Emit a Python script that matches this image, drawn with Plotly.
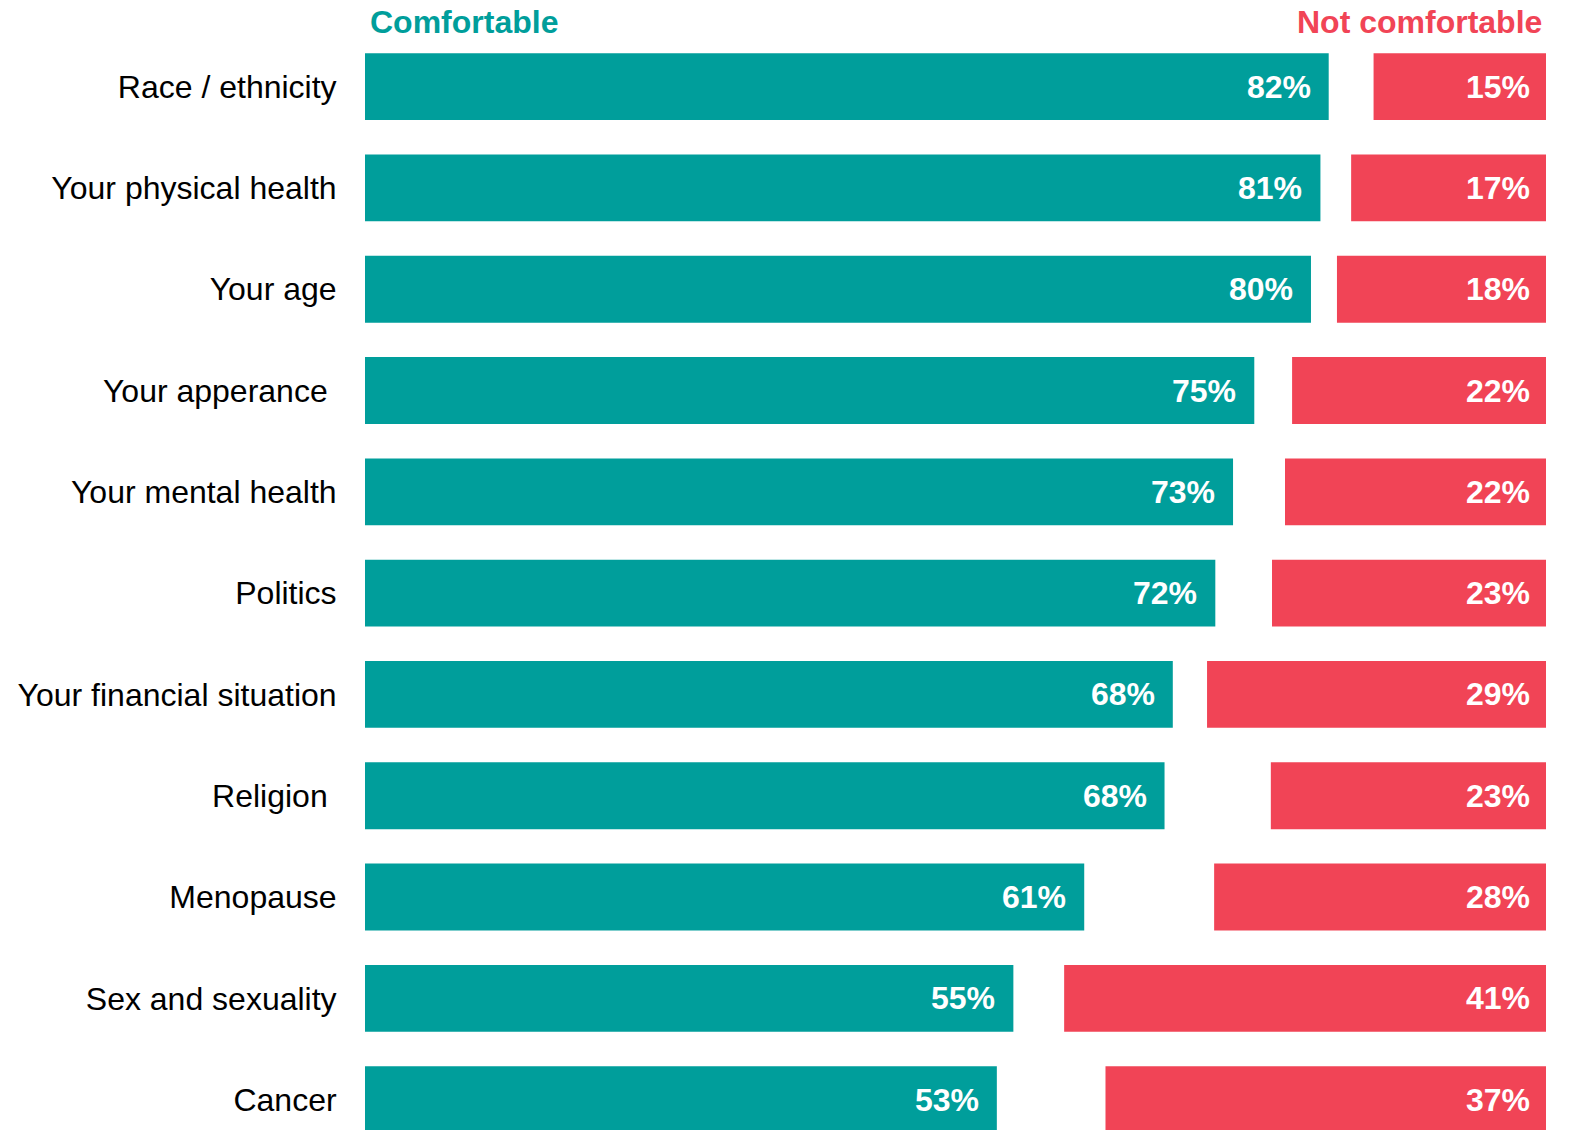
import plotly.graph_objects as go

categories = ["Race / ethnicity", "Your physical health", "Your age", "Your apperance\u00a0",
              "Your mental health", "Politics", "Your financial situation", "Religion\u00a0",
              "Menopause", "Sex and sexuality", "Cancer"]
comfortable = [82, 81, 80, 75, 73, 72, 68, 68, 61, 55, 53]
not_comfortable = [15, 17, 18, 22, 22, 23, 29, 23, 28, 41, 37]
# approximate unrounded bar lengths
comfortable_len = [81.6, 80.9, 80.1, 75.3, 73.5, 72.0, 68.4, 67.7, 60.9, 54.9, 53.5]
not_comfortable_len = [14.6, 16.5, 17.7, 21.5, 22.1, 23.2, 28.7, 23.3, 28.1, 40.8, 37.3]
header_left = "Comfortable"
header_right = "Not comfortable"

TEAL = "#009E9B"
RED = "#F14456"
FONT = "Liberation Sans, Arial, sans-serif"
FS = 32
TOTAL = 100

fig = go.Figure()
fig.add_trace(go.Bar(
    y=categories, x=comfortable_len, base=0, orientation="h",
    marker=dict(color=TEAL, line=dict(width=0)), hoverinfo="skip",
))
fig.add_trace(go.Bar(
    y=categories, x=not_comfortable_len, base=[TOTAL - v for v in not_comfortable_len],
    orientation="h", marker=dict(color=RED, line=dict(width=0)), hoverinfo="skip",
))

annotations = []
for cat, v, L in zip(categories, comfortable, comfortable_len):
    annotations.append(dict(x=L, y=cat, xref="x", yref="y", text=f"<b>{v}%</b>",
                            showarrow=False, xanchor="right", yanchor="middle", xshift=-16,
                            font=dict(family=FONT, size=FS, color="white")))
for cat, v in zip(categories, not_comfortable):
    annotations.append(dict(x=TOTAL, y=cat, xref="x", yref="y", text=f"<b>{v}%</b>",
                            showarrow=False, xanchor="right", yanchor="middle", xshift=-14,
                            font=dict(family=FONT, size=FS, color="white")))
annotations.append(dict(x=0, y=1, xref="x", yref="paper", yshift=14, text=f"<b>{header_left}</b>",
                        showarrow=False, xanchor="left", yanchor="middle", xshift=3,
                        font=dict(family=FONT, size=FS, color=TEAL)))
annotations.append(dict(x=TOTAL, y=1, xref="x", yref="paper", yshift=14, text=f"<b>{header_right}</b>",
                        showarrow=False, xanchor="right", yanchor="middle", xshift=-2,
                        font=dict(family=FONT, size=FS, color=RED)))

fig.update_layout(
    width=1575, height=1130,
    margin=dict(l=365, r=29, t=36, b=0, pad=0),
    paper_bgcolor="white", plot_bgcolor="white",
    barmode="overlay", bargap=0.34, showlegend=False,
    xaxis=dict(range=[0, TOTAL], visible=False, fixedrange=True),
    yaxis=dict(type="category", categoryorder="array", categoryarray=categories,
               range=[10.3, -0.5], showgrid=False, zeroline=False, showline=False,
               ticks="outside", ticklen=21, tickcolor="rgba(0,0,0,0)",
               tickfont=dict(family=FONT, size=FS, color="black"), fixedrange=True),
    annotations=annotations,
)

fig.write_html("out.html", config={"displayModeBar": False},
               post_script="document.body.style.margin='0';")
